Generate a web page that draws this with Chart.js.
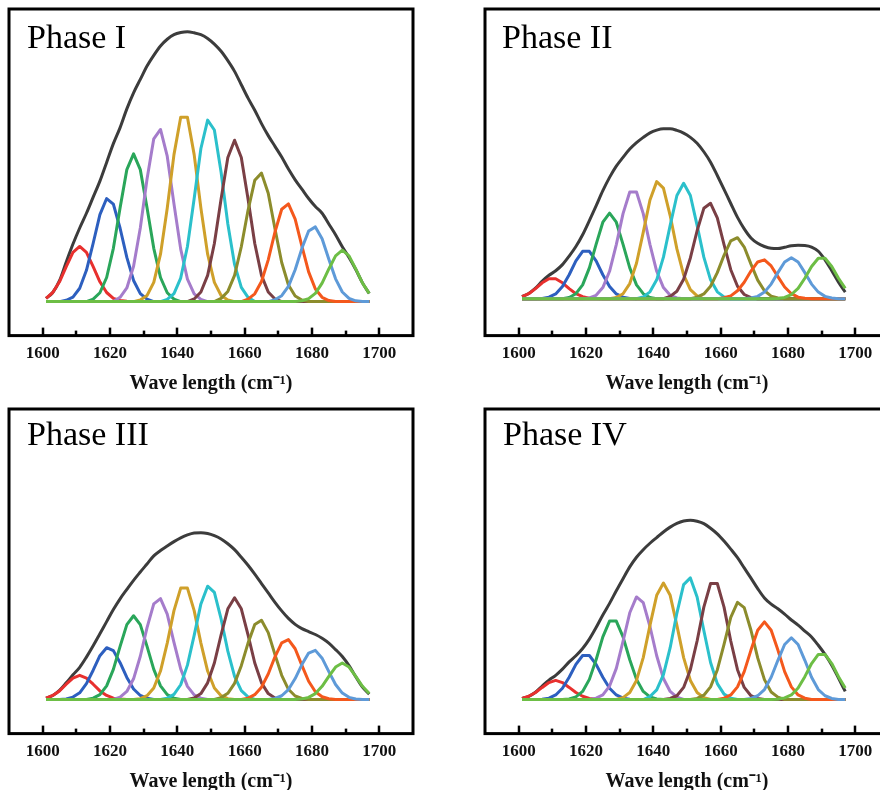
<!DOCTYPE html>
<html>
<head>
<meta charset="utf-8">
<script src="https://cdn.jsdelivr.net/npm/chart.js@4.4.1/dist/chart.umd.min.js"></script>
<style>
    html, body { margin: 0; padding: 0; background: #fff; overflow: hidden; }
    #page { position: relative; width: 880px; height: 790px; overflow: hidden; }
    canvas { position: absolute; }
    .phase { position: absolute; font-family: "Liberation Serif", "Times New Roman", serif; font-size: 34px; line-height: 34px; color: #000; white-space: nowrap; }
</style>
</head>
<body>
<div id="page">
    <canvas id="phase1" width="440" height="400" style="left:0px;top:0px"></canvas>
    <canvas id="phase2" width="440" height="400" style="left:476px;top:0px"></canvas>
    <canvas id="phase3" width="440" height="400" style="left:0px;top:398px"></canvas>
    <canvas id="phase4" width="440" height="400" style="left:476px;top:398px"></canvas>
    <div class="phase" style="left:27px;top:20px">Phase I</div>
    <div class="phase" style="left:502px;top:20px">Phase II</div>
    <div class="phase" style="left:27px;top:417px">Phase III</div>
    <div class="phase" style="left:503px;top:417px">Phase IV</div>
</div>
<script>
// x sampling of every curve (cm-1)
const waveNumbers = [1601, 1603, 1605, 1607, 1609, 1611, 1613, 1615, 1617, 1619, 1621, 1623, 1625,
    1627, 1629, 1631, 1633, 1635, 1637, 1639, 1641, 1643, 1645, 1647, 1649, 1651, 1653, 1655, 1657,
    1659, 1661, 1663, 1665, 1667, 1669, 1671, 1673, 1675, 1677, 1679, 1681, 1683, 1685, 1687, 1689,
    1691, 1693, 1695, 1697];
const xTicks = [1600, 1620, 1640, 1660, 1680, 1700];
const xMinorTicks = [1610, 1630, 1650, 1670, 1690];

const peakColors = ['#e8302e', '#2d5fbf', '#2aa65a', '#a57ccb', '#cfa02a', '#2bc0cb',
    '#7a3f45', '#8c8c2c', '#f4581c', '#5e9ad8', '#6dbe45'];

// Phase I
const phase1Envelope = [0.012, 0.034, 0.078, 0.148, 0.215, 0.275, 0.33, 0.39, 0.45, 0.52, 0.59, 0.65, 0.72,
    0.78, 0.83, 0.88, 0.92, 0.955, 0.98, 0.997, 1.005, 1.008, 1.004, 0.997, 0.983, 0.962, 0.935, 0.9, 0.86,
    0.81, 0.76, 0.715, 0.665, 0.62, 0.58, 0.54, 0.495, 0.455, 0.42, 0.385, 0.355, 0.33, 0.29, 0.25, 0.205,
    0.165, 0.12, 0.07, 0.03];
const phase1Starts = [1601, 1607, 1615, 1623, 1629, 1637, 1645, 1653, 1661, 1669, 1677];
const phase1Peaks = [
    [0.012, 0.034, 0.074, 0.131, 0.184, 0.206, 0.184, 0.131, 0.074, 0.034, 0.012, 0.004, 0.001],
    [0.005, 0.017, 0.050, 0.117, 0.218, 0.325, 0.385, 0.364, 0.274, 0.165, 0.079, 0.030, 0.009],
    [0.009, 0.033, 0.090, 0.199, 0.351, 0.493, 0.552, 0.493, 0.351, 0.199, 0.090, 0.033, 0.009],
    [0.016, 0.051, 0.132, 0.275, 0.458, 0.608, 0.643, 0.543, 0.365, 0.196, 0.084, 0.029, 0.008],
    [0.006, 0.023, 0.072, 0.177, 0.349, 0.549, 0.689, 0.689, 0.549, 0.349, 0.177, 0.072, 0.023, 0.006],
    [0.008, 0.030, 0.088, 0.206, 0.385, 0.572, 0.678, 0.641, 0.483, 0.290, 0.139, 0.053, 0.016],
    [0.010, 0.036, 0.098, 0.217, 0.383, 0.538, 0.603, 0.538, 0.383, 0.217, 0.098, 0.036, 0.010],
    [0.012, 0.038, 0.098, 0.205, 0.341, 0.453, 0.480, 0.405, 0.272, 0.146, 0.062, 0.021, 0.006],
    [0.009, 0.029, 0.075, 0.156, 0.260, 0.345, 0.365, 0.308, 0.207, 0.111, 0.047, 0.016, 0.004],
    [0.007, 0.022, 0.057, 0.119, 0.199, 0.264, 0.279, 0.235, 0.158, 0.085, 0.036, 0.012, 0.003],
    [0.003, 0.011, 0.031, 0.069, 0.122, 0.171, 0.192, 0.171, 0.122, 0.069, 0.031]
];

// Phase II
const phase2Envelope = [0.008, 0.02, 0.04, 0.066, 0.088, 0.105, 0.128, 0.16, 0.196, 0.24, 0.293, 0.348,
    0.405, 0.455, 0.497, 0.53, 0.561, 0.585, 0.605, 0.622, 0.632, 0.637, 0.637, 0.631, 0.621, 0.605, 0.583,
    0.551, 0.512, 0.462, 0.41, 0.357, 0.305, 0.262, 0.228, 0.208, 0.196, 0.189, 0.188, 0.193, 0.199, 0.201,
    0.2, 0.194, 0.178, 0.146, 0.105, 0.062, 0.025];
const phase2Starts = [1601, 1607, 1615, 1621, 1629, 1637, 1645, 1653, 1661, 1669, 1677];
const phase2Peaks = [
    [0.008, 0.019, 0.038, 0.060, 0.075, 0.075, 0.060, 0.038, 0.019, 0.008, 0.002, 0.001],
    [0.001, 0.006, 0.018, 0.046, 0.090, 0.142, 0.178, 0.178, 0.142, 0.090, 0.046, 0.018, 0.006, 0.001],
    [0.005, 0.019, 0.052, 0.116, 0.204, 0.287, 0.321, 0.287, 0.204, 0.116, 0.052, 0.019, 0.005],
    [0.003, 0.013, 0.042, 0.103, 0.203, 0.319, 0.400, 0.400, 0.319, 0.203, 0.103, 0.042, 0.013, 0.003],
    [0.005, 0.019, 0.057, 0.133, 0.249, 0.370, 0.439, 0.415, 0.312, 0.187, 0.090, 0.034, 0.011],
    [0.007, 0.026, 0.071, 0.156, 0.275, 0.387, 0.433, 0.387, 0.275, 0.156, 0.071, 0.026, 0.007],
    [0.009, 0.028, 0.073, 0.153, 0.255, 0.339, 0.358, 0.303, 0.203, 0.109, 0.047, 0.016, 0.004],
    [0.006, 0.018, 0.047, 0.098, 0.163, 0.217, 0.229, 0.194, 0.130, 0.070, 0.030, 0.010, 0.003],
    [0.004, 0.011, 0.030, 0.062, 0.104, 0.138, 0.146, 0.123, 0.083, 0.044, 0.019, 0.006, 0.002],
    [0.003, 0.009, 0.025, 0.055, 0.098, 0.138, 0.154, 0.138, 0.098, 0.055, 0.025, 0.009, 0.003],
    [0.001, 0.005, 0.016, 0.039, 0.077, 0.121, 0.152, 0.152, 0.121, 0.077, 0.039]
];

// Phase III
const phase3Envelope = [0.005, 0.015, 0.034, 0.062, 0.092, 0.12, 0.158, 0.2, 0.245, 0.29, 0.335, 0.375, 0.41,
    0.444, 0.475, 0.505, 0.535, 0.555, 0.572, 0.588, 0.602, 0.613, 0.62, 0.621, 0.618, 0.61, 0.598, 0.58,
    0.558, 0.53, 0.5, 0.467, 0.432, 0.397, 0.362, 0.33, 0.302, 0.28, 0.264, 0.253, 0.242, 0.228, 0.21,
    0.186, 0.16, 0.126, 0.085, 0.046, 0.02];
const phase3Starts = [1601, 1607, 1615, 1623, 1629, 1637, 1645, 1653, 1661, 1669, 1677];
const phase3Peaks = [
    [0.005, 0.015, 0.032, 0.057, 0.080, 0.090, 0.080, 0.057, 0.032, 0.015, 0.005, 0.002, 0.000],
    [0.002, 0.009, 0.025, 0.059, 0.109, 0.163, 0.193, 0.182, 0.137, 0.082, 0.039, 0.015, 0.005],
    [0.005, 0.018, 0.051, 0.112, 0.198, 0.279, 0.312, 0.279, 0.198, 0.112, 0.051, 0.018, 0.005],
    [0.009, 0.030, 0.077, 0.161, 0.268, 0.356, 0.376, 0.318, 0.213, 0.114, 0.049, 0.017, 0.005],
    [0.003, 0.014, 0.043, 0.106, 0.210, 0.331, 0.415, 0.415, 0.331, 0.210, 0.106, 0.043, 0.014, 0.003],
    [0.005, 0.019, 0.055, 0.128, 0.239, 0.356, 0.422, 0.399, 0.300, 0.180, 0.086, 0.033, 0.010],
    [0.006, 0.022, 0.062, 0.136, 0.241, 0.338, 0.379, 0.338, 0.241, 0.136, 0.062, 0.022, 0.006],
    [0.007, 0.023, 0.060, 0.126, 0.210, 0.279, 0.295, 0.249, 0.167, 0.090, 0.038, 0.013, 0.004],
    [0.005, 0.018, 0.046, 0.095, 0.159, 0.211, 0.223, 0.189, 0.127, 0.068, 0.029, 0.010, 0.003],
    [0.004, 0.014, 0.037, 0.078, 0.130, 0.173, 0.183, 0.154, 0.104, 0.056, 0.024, 0.008, 0.002],
    [0.002, 0.008, 0.022, 0.049, 0.086, 0.121, 0.136, 0.121, 0.086, 0.049, 0.022]
];

// Phase IV
const phase4Envelope = [0.004, 0.012, 0.027, 0.05, 0.072, 0.09, 0.113, 0.14, 0.163, 0.19, 0.225, 0.268,
    0.315, 0.358, 0.405, 0.45, 0.494, 0.53, 0.558, 0.582, 0.603, 0.624, 0.642, 0.656, 0.665, 0.668, 0.664,
    0.655, 0.638, 0.617, 0.59, 0.56, 0.528, 0.49, 0.452, 0.413, 0.378, 0.355, 0.338, 0.318, 0.296, 0.277,
    0.255, 0.233, 0.202, 0.168, 0.128, 0.08, 0.03];
const phase4Starts = [1601, 1607, 1615, 1623, 1631, 1639, 1645, 1653, 1661, 1669, 1677];
const phase4Peaks = [
    [0.004, 0.012, 0.026, 0.045, 0.063, 0.071, 0.063, 0.045, 0.026, 0.012, 0.004, 0.001, 0.000],
    [0.001, 0.005, 0.017, 0.042, 0.083, 0.131, 0.164, 0.164, 0.131, 0.083, 0.042, 0.017, 0.005, 0.001],
    [0.002, 0.010, 0.030, 0.075, 0.148, 0.233, 0.292, 0.292, 0.233, 0.148, 0.075, 0.030, 0.010, 0.002],
    [0.005, 0.017, 0.050, 0.116, 0.217, 0.323, 0.382, 0.361, 0.272, 0.163, 0.078, 0.030, 0.009],
    [0.007, 0.026, 0.071, 0.156, 0.276, 0.388, 0.434, 0.388, 0.276, 0.156, 0.071, 0.026, 0.007],
    [0.011, 0.036, 0.093, 0.193, 0.322, 0.428, 0.453, 0.382, 0.257, 0.138, 0.059, 0.020, 0.005],
    [0.004, 0.014, 0.045, 0.111, 0.218, 0.344, 0.432, 0.432, 0.344, 0.218, 0.111, 0.045, 0.014, 0.004],
    [0.004, 0.016, 0.047, 0.110, 0.205, 0.306, 0.362, 0.342, 0.258, 0.155, 0.074, 0.028, 0.009],
    [0.005, 0.017, 0.047, 0.104, 0.184, 0.258, 0.289, 0.258, 0.184, 0.104, 0.047, 0.017, 0.005],
    [0.004, 0.014, 0.037, 0.083, 0.146, 0.205, 0.230, 0.205, 0.146, 0.083, 0.037, 0.014, 0.004],
    [0.001, 0.006, 0.017, 0.043, 0.085, 0.134, 0.168, 0.168, 0.134, 0.085, 0.043]
];

// Draws the box frame and the short inward ticks on the bottom axis
const framePlugin = {
    id: 'frame',
    afterDraw(chart) {
        const { ctx, chartArea: area, scales: { x } } = chart;
        ctx.save();
        ctx.strokeStyle = '#000';
        ctx.lineWidth = 2.5;
        const tick = (v, len) => {
            const px = Math.round(x.getPixelForValue(v));
            ctx.beginPath();
            ctx.moveTo(px, area.bottom);
            ctx.lineTo(px, area.bottom - len);
            ctx.stroke();
        };
        xTicks.forEach(v => tick(v, 8));
        xMinorTicks.forEach(v => tick(v, 5));
        ctx.lineWidth = 3;
        ctx.strokeRect(area.left, area.top, area.right - area.left, area.bottom - area.top);
        ctx.restore();
    }
};

function peakSeries(start, values) {
    // zero baseline outside the fitted window
    return waveNumbers.map(x => {
        const i = (x - start) / 2;
        return { x: x, y: i >= 0 && i < values.length ? values[i] : 0 };
    });
}

function drawPhase(canvasId, envelope, starts, peaks, yMin, yMax, padTop) {
    const datasets = peaks.map((values, i) => ({
        data: peakSeries(starts[i], values),
        borderColor: peakColors[i],
        borderWidth: 3,
        borderJoinStyle: 'round',
        pointRadius: 0,
        tension: 0,
        order: peaks.length - i
    }));
    datasets.push({
        data: waveNumbers.map((x, i) => ({ x: x, y: envelope[i] })),
        borderColor: '#3c3c3c',
        borderWidth: 3,
        pointRadius: 0,
        cubicInterpolationMode: 'monotone',
        order: 100
    });

    new Chart(document.getElementById(canvasId), {
        type: 'line',
        data: { datasets: datasets },
        options: {
            responsive: false,
            animation: false,
            layout: { padding: { left: 9, right: 27, top: padTop, bottom: 0 } },
            plugins: { legend: { display: false }, tooltip: { enabled: false } },
            scales: {
                x: {
                    type: 'linear',
                    min: 1590,
                    max: 1710,
                    afterBuildTicks: scale => { scale.ticks = xTicks.map(v => ({ value: v })); },
                    grid: { display: false, drawTicks: false },
                    border: { display: false },
                    ticks: {
                        color: '#111',
                        padding: 8,
                        maxRotation: 0,
                        autoSkip: false,
                        callback: v => String(v),
                        font: { family: 'Liberation Serif', size: 17, weight: 'bold' }
                    },
                    title: {
                        display: true,
                        text: 'Wave length (cm\u207B\u00B9)',
                        color: '#111',
                        padding: { top: 0, bottom: 4 },
                        font: { family: 'Liberation Serif', size: 20, weight: 'bold' }
                    }
                },
                y: { display: false, min: yMin, max: yMax }
            }
        },
        plugins: [framePlugin]
    });
}

drawPhase('phase1', phase1Envelope, phase1Starts, phase1Peaks, -0.127, 1.093, 9);
drawPhase('phase2', phase2Envelope, phase2Starts, phase2Peaks, -0.138, 1.086, 9);
drawPhase('phase3', phase3Envelope, phase3Starts, phase3Peaks, -0.127, 1.082, 11);
drawPhase('phase4', phase4Envelope, phase4Starts, phase4Peaks, -0.127, 1.082, 11);
</script>
</body>
</html>
